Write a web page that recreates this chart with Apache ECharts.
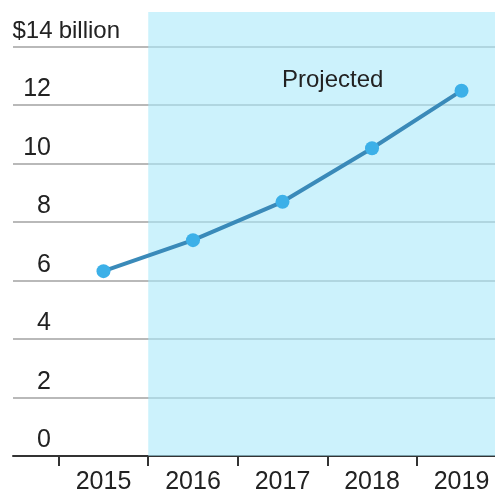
<!DOCTYPE html>
<html>
<head>
<meta charset="utf-8">
<script src="https://cdn.jsdelivr.net/npm/echarts@6/dist/echarts.min.js"></script>
<style>
  html, body { margin: 0; padding: 0; background: #ffffff; }
  #chart { width: 495px; height: 498px; }
</style>
</head>
<body>
<div id="chart"></div>
<script>
// Annual revenue, billions of dollars (2016 onward projected)
const years = ['2015', '2016', '2017', '2018', '2019'];
const revenue = [6.32, 7.38, 8.69, 10.52, 12.49];
const yTicks = [0, 2, 4, 6, 8, 10, 12, 14];
const projectedFrom = 0.5;       // boundary between 2015 and 2016
const unitLabel = ' billion';

// Axis ranges: the plot reaches half a band past the first tick on the left
const X_MIN = -1.011, X_MAX = 4.374;
const Y_MIN = 0, Y_MAX = 15.18;

const FONT = '"Liberation Sans", Arial, sans-serif';
const TEXT = '#222222';

const chart = echarts.init(document.getElementById('chart'), null, { renderer: 'canvas' });

chart.setOption({
  animation: false,
  grid: { left: 13, right: 0, top: 12, bottom: 42 },
  xAxis: {
    type: 'value',
    min: X_MIN,
    max: X_MAX,
    splitLine: { show: false },
    axisLine: { show: true, lineStyle: { color: '#333333', width: 2 } },
    axisTick: {
      show: true,
      length: 10,
      lineStyle: { color: '#333333', width: 2 },
      customValues: years.map((_, i) => i - 0.5)
    },
    axisLabel: {
      customValues: years.map((_, i) => i),
      formatter: v => years[Math.round(v)],
      color: TEXT,
      fontFamily: FONT,
      fontSize: 25,
      margin: 14
    }
  },
  yAxis: {
    type: 'value',
    min: Y_MIN,
    max: Y_MAX,
    interval: 2,
    axisLine: { show: false },
    axisTick: { show: false },
    splitLine: {
      show: true,
      showMaxLine: false,
      lineStyle: { color: '#b9b9b9', width: 2 }
    },
    axisLabel: {
      inside: true,
      margin: 0,
      showMaxLabel: false,
      align: 'left',
      verticalAlign: 'bottom',
      padding: [0, 0, 3, 0],
      formatter: v => {
        if (yTicks.indexOf(v) < 0) return '';
        const top = yTicks[yTicks.length - 1];
        return v === top ? '{t|$' + v + '}{b|' + unitLabel + '}' : '{n|' + v + '}';
      },
      rich: {
        n: { width: 38, align: 'right', fontFamily: FONT, fontSize: 25, color: TEXT },
        t: { width: 39, align: 'right', fontFamily: FONT, fontSize: 24, color: TEXT },
        b: { fontFamily: FONT, fontSize: 24, color: TEXT }
      }
    }
  },
  graphic: [{
    type: 'text',
    left: 282,
    top: 68,
    z: 100,
    style: { text: 'Projected', fontFamily: FONT, fontSize: 24, fill: TEXT }
  }],
  series: [{
    type: 'line',
    data: revenue.map((v, i) => [i, v]),
    lineStyle: { color: '#3a8ab9', width: 4 },
    symbol: 'circle',
    symbolSize: 14,
    itemStyle: { color: '#3cb0e8' },
    z: 3,
    markArea: {
      silent: true,
      itemStyle: { color: 'rgba(170, 233, 250, 0.6)' },
      data: [[
        { xAxis: projectedFrom, yAxis: Y_MIN },
        { xAxis: X_MAX, yAxis: Y_MAX }
      ]]
    }
  }]
});
</script>
</body>
</html>
